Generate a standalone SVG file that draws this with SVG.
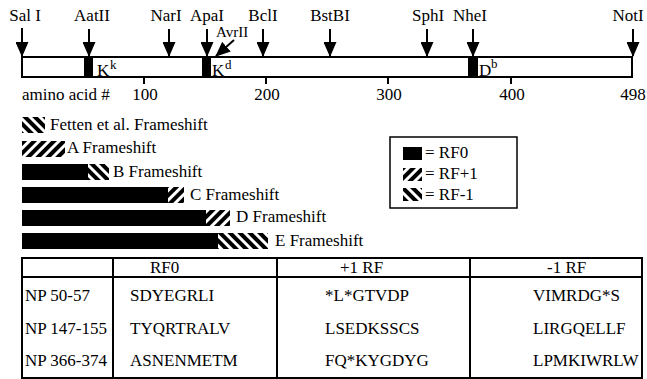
<svg xmlns="http://www.w3.org/2000/svg" width="647" height="379" viewBox="0 0 647 379">
<style>
text{font-family:"Liberation Serif","Times New Roman",serif;fill:#000;}
.t{font-size:17px;}
.s{font-size:15px;}
.sup{font-size:13px;}
.ln{stroke:#000;stroke-width:2;fill:none;}
.arr{stroke:#000;stroke-width:2;fill:none;marker-end:url(#ah);}
.blk{fill:#000;}
.p1{fill:url(#rfp1);}
.m1{fill:url(#rfm1);}
.c{text-anchor:middle;}
</style>
<defs>
<marker id="ah" markerUnits="userSpaceOnUse" viewBox="0 0 15 13" markerWidth="15" markerHeight="13" refX="14" refY="6.5" orient="auto">
<path d="M0,0 L15,6.5 L0,13 z" fill="#000"/>
</marker>
<pattern id="rfp1" patternUnits="userSpaceOnUse" width="7" height="7" patternTransform="rotate(45)">
<rect width="7" height="7" fill="#000"/>
<rect x="0" width="3" height="7" fill="#fff"/>
</pattern>
<pattern id="rfm1" patternUnits="userSpaceOnUse" width="7" height="7" patternTransform="rotate(-45)">
<rect width="7" height="7" fill="#000"/>
<rect x="0" width="3" height="7" fill="#fff"/>
</pattern>
</defs>

<g id="site-labels">
<text class="t c" x="25" y="21">Sal I</text>
<text class="t c" x="92" y="21">AatII</text>
<text class="t c" x="166" y="21">NarI</text>
<text class="t c" x="207" y="21">ApaI</text>
<text class="s" x="216" y="37">AvrII</text>
<text class="t c" x="263" y="21">BclI</text>
<text class="t c" x="330" y="21">BstBI</text>
<text class="t c" x="428" y="21">SphI</text>
<text class="t c" x="470" y="21">NheI</text>
<text class="t c" x="628" y="21">NotI</text>
</g>

<g id="connectors">
<line class="arr" x1="22" y1="28" x2="22" y2="56"/>
<line class="arr" x1="89" y1="29" x2="89" y2="56"/>
<line class="arr" x1="169" y1="29" x2="169" y2="56"/>
<line class="arr" x1="207" y1="29" x2="207" y2="56"/>
<line class="arr" x1="234" y1="40" x2="216" y2="56"/>
<line class="arr" x1="263" y1="29" x2="263" y2="56"/>
<line class="arr" x1="330" y1="29" x2="330" y2="56"/>
<line class="arr" x1="427" y1="29" x2="427" y2="56"/>
<line class="arr" x1="473" y1="29" x2="473" y2="56"/>
<line class="arr" x1="633" y1="29" x2="633" y2="56"/>
</g>

<g id="gene-bar">
<rect class="ln" x="22" y="57" width="610" height="20"/>
<rect class="blk" x="84" y="57" width="9" height="20"/>
<rect class="blk" x="202" y="57" width="9" height="20"/>
<rect class="blk" x="468" y="57" width="10" height="20"/>
<text class="t" x="97" y="76">K</text><text class="sup" x="110" y="69">k</text>
<text class="t" x="212" y="76">K</text><text class="sup" x="225" y="69">d</text>
<text class="t" x="479" y="76">D</text><text class="sup" x="491" y="68">b</text>
</g>

<g id="scale">
<line class="ln" x1="144" y1="77" x2="144" y2="84"/>
<line class="ln" x1="266" y1="77" x2="266" y2="84"/>
<line class="ln" x1="388" y1="77" x2="388" y2="84"/>
<line class="ln" x1="511" y1="77" x2="511" y2="84"/>
<text class="t" x="22" y="100">amino acid #</text>
<text class="t c" x="145" y="100">100</text>
<text class="t c" x="267" y="100">200</text>
<text class="t c" x="389" y="100">300</text>
<text class="t c" x="512" y="100">400</text>
<text class="t c" x="633" y="100">498</text>
</g>

<g id="fetten">
<rect class="m1" x="22" y="117" width="23" height="16"/>
<text class="t" x="50" y="130">Fetten et al. Frameshift</text>
</g>
<g id="frameshift-a">
<rect class="p1" x="22" y="141" width="43" height="16"/>
<text class="t" x="67" y="153">A Frameshift</text>
</g>
<g id="frameshift-b">
<rect class="blk" x="22" y="164" width="67" height="16"/>
<rect class="m1" x="88" y="164" width="21" height="16"/>
<text class="t" x="113" y="177">B Frameshift</text>
</g>
<g id="frameshift-c">
<rect class="blk" x="22" y="187" width="147" height="16"/>
<rect class="p1" x="168" y="187" width="16" height="16"/>
<text class="t" x="190" y="200">C Frameshift</text>
</g>
<g id="frameshift-d">
<rect class="blk" x="22" y="210" width="185" height="16"/>
<rect class="p1" x="206" y="210" width="24" height="16"/>
<text class="t" x="236" y="222">D Frameshift</text>
</g>
<g id="frameshift-e">
<rect class="blk" x="22" y="233" width="197" height="16"/>
<rect class="m1" x="218" y="233" width="50" height="16"/>
<text class="t" x="275" y="246">E Frameshift</text>
</g>

<g id="legend">
<rect x="390" y="137" width="127" height="71" fill="none" stroke="#000" stroke-width="1.5"/>
<rect class="blk" x="403" y="147" width="19" height="13"/>
<text class="t" x="425" y="158">= RF0</text>
<rect class="p1" x="403" y="168" width="19" height="13"/>
<text class="t" x="425" y="179">= RF+1</text>
<rect class="m1" x="403" y="188" width="19" height="13"/>
<text class="t" x="425" y="200">= RF-1</text>
</g>

<g id="table">
<rect x="22" y="258" width="620" height="120" fill="none" stroke="#000" stroke-width="2"/>
<line class="ln" x1="22" y1="277" x2="642" y2="277"/>
<line class="ln" x1="113" y1="258" x2="113" y2="378"/>
<line class="ln" x1="277" y1="258" x2="277" y2="378"/>
<line class="ln" x1="470" y1="258" x2="470" y2="378"/>
<text class="t" x="150" y="273">RF0</text>
<text class="t" x="340" y="273">+1 RF</text>
<text class="t" x="547" y="273">-1 RF</text>
<text class="t" x="25" y="301">NP 50-57</text>
<text class="t" x="130" y="301">SDYEGRLI</text>
<text class="t" x="325" y="301">*L*GTVDP</text>
<text class="t" x="533" y="301">VIMRDG*S</text>
<text class="t" x="25" y="334">NP 147-155</text>
<text class="t" x="130" y="334">TYQRTRALV</text>
<text class="t" x="325" y="334">LSEDKSSCS</text>
<text class="t" x="533" y="334">LIRGQELLF</text>
<text class="t" x="25" y="366">NP 366-374</text>
<text class="t" x="130" y="366">ASNENMETM</text>
<text class="t" x="325" y="366">FQ*KYGDYG</text>
<text class="t" x="533" y="366">LPMKIWRLW</text>
</g>
</svg>
